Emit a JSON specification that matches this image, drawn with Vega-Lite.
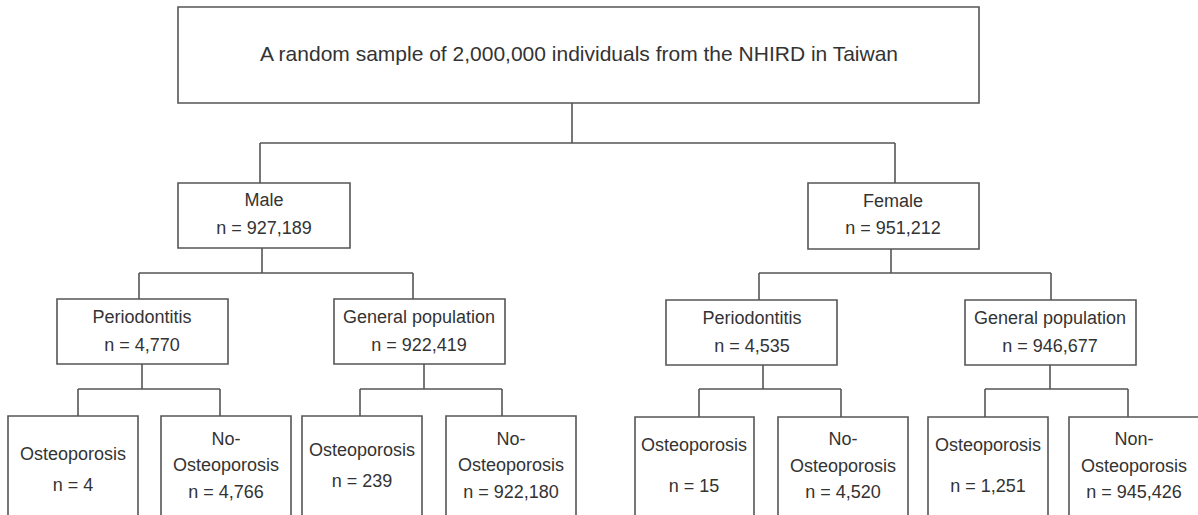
{
  "$schema": "https://vega.github.io/schema/vega-lite/v6.json",
  "width": 1198,
  "height": 515,
  "padding": 0,
  "autosize": {"type": "fit", "contains": "padding"},
  "background": "white",
  "config": {"view": {"stroke": null}},
  "datasets": {
    "boxes": [
      {"node": "root", "x": 178, "x2": 979, "y": 7, "y2": 103},
      {"node": "male", "x": 178, "x2": 350, "y": 183, "y2": 248},
      {"node": "female", "x": 808, "x2": 979, "y": 183, "y2": 249},
      {"node": "m_perio", "x": 57, "x2": 228, "y": 299, "y2": 364},
      {"node": "m_gen", "x": 334, "x2": 505, "y": 299, "y2": 364},
      {"node": "f_perio", "x": 666, "x2": 837, "y": 300, "y2": 365},
      {"node": "f_gen", "x": 965, "x2": 1136, "y": 300, "y2": 365},
      {"node": "m_perio_ost", "x": 8, "x2": 138, "y": 416, "y2": 530},
      {"node": "m_perio_non", "x": 161, "x2": 291, "y": 416, "y2": 530},
      {"node": "m_gen_ost", "x": 302, "x2": 422, "y": 416, "y2": 530},
      {"node": "m_gen_non", "x": 446, "x2": 576, "y": 416, "y2": 530},
      {"node": "f_perio_ost", "x": 635, "x2": 754, "y": 417, "y2": 530},
      {"node": "f_perio_non", "x": 778, "x2": 908, "y": 417, "y2": 530},
      {"node": "f_gen_ost", "x": 928, "x2": 1048, "y": 417, "y2": 530},
      {"node": "f_gen_non", "x": 1069, "x2": 1210, "y": 417, "y2": 530}
    ],
    "links": [
      {"x": 572, "x2": 572, "y": 103, "y2": 143},
      {"x": 260, "x2": 895, "y": 143, "y2": 143},
      {"x": 260, "x2": 260, "y": 143, "y2": 183},
      {"x": 895, "x2": 895, "y": 143, "y2": 183},
      {"x": 262, "x2": 262, "y": 248, "y2": 273},
      {"x": 139, "x2": 413, "y": 273, "y2": 273},
      {"x": 139, "x2": 139, "y": 273, "y2": 299},
      {"x": 413, "x2": 413, "y": 273, "y2": 299},
      {"x": 891, "x2": 891, "y": 249, "y2": 273},
      {"x": 759, "x2": 1051, "y": 273, "y2": 273},
      {"x": 759, "x2": 759, "y": 273, "y2": 300},
      {"x": 1051, "x2": 1051, "y": 273, "y2": 300},
      {"x": 142, "x2": 142, "y": 364, "y2": 389},
      {"x": 78, "x2": 220, "y": 389, "y2": 389},
      {"x": 78, "x2": 78, "y": 389, "y2": 416},
      {"x": 220, "x2": 220, "y": 389, "y2": 416},
      {"x": 424, "x2": 424, "y": 364, "y2": 389},
      {"x": 360, "x2": 502, "y": 389, "y2": 389},
      {"x": 360, "x2": 360, "y": 389, "y2": 416},
      {"x": 502, "x2": 502, "y": 389, "y2": 416},
      {"x": 763, "x2": 763, "y": 365, "y2": 389},
      {"x": 699, "x2": 841, "y": 389, "y2": 389},
      {"x": 699, "x2": 699, "y": 389, "y2": 417},
      {"x": 841, "x2": 841, "y": 389, "y2": 417},
      {"x": 1050, "x2": 1050, "y": 365, "y2": 389},
      {"x": 985, "x2": 1128, "y": 389, "y2": 389},
      {"x": 985, "x2": 985, "y": 389, "y2": 417},
      {"x": 1128, "x2": 1128, "y": 389, "y2": 417}
    ],
    "labels": [
      {"role": "title", "x": 579, "y": 55, "label": "A random sample of 2,000,000 individuals from the NHIRD in Taiwan"},
      {"role": "node", "x": 264, "y": 201, "label": "Male"},
      {"role": "node", "x": 264, "y": 229, "label": "n = 927,189"},
      {"role": "node", "x": 893, "y": 202, "label": "Female"},
      {"role": "node", "x": 893, "y": 229, "label": "n = 951,212"},
      {"role": "node", "x": 142, "y": 318, "label": "Periodontitis"},
      {"role": "node", "x": 142, "y": 346, "label": "n = 4,770"},
      {"role": "node", "x": 419, "y": 318, "label": "General population"},
      {"role": "node", "x": 419, "y": 346, "label": "n = 922,419"},
      {"role": "node", "x": 752, "y": 319, "label": "Periodontitis"},
      {"role": "node", "x": 752, "y": 347, "label": "n = 4,535"},
      {"role": "node", "x": 1050, "y": 319, "label": "General population"},
      {"role": "node", "x": 1050, "y": 347, "label": "n = 946,677"},
      {"role": "node", "x": 73, "y": 455, "label": "Osteoporosis"},
      {"role": "node", "x": 73, "y": 486, "label": "n = 4"},
      {"role": "node", "x": 226, "y": 440, "label": "No-"},
      {"role": "node", "x": 226, "y": 466, "label": "Osteoporosis"},
      {"role": "node", "x": 226, "y": 493, "label": "n = 4,766"},
      {"role": "node", "x": 362, "y": 451, "label": "Osteoporosis"},
      {"role": "node", "x": 362, "y": 482, "label": "n = 239"},
      {"role": "node", "x": 511, "y": 440, "label": "No-"},
      {"role": "node", "x": 511, "y": 466, "label": "Osteoporosis"},
      {"role": "node", "x": 511, "y": 493, "label": "n = 922,180"},
      {"role": "node", "x": 694, "y": 446, "label": "Osteoporosis"},
      {"role": "node", "x": 694, "y": 487, "label": "n = 15"},
      {"role": "node", "x": 843, "y": 440, "label": "No-"},
      {"role": "node", "x": 843, "y": 467, "label": "Osteoporosis"},
      {"role": "node", "x": 843, "y": 493, "label": "n = 4,520"},
      {"role": "node", "x": 988, "y": 446, "label": "Osteoporosis"},
      {"role": "node", "x": 988, "y": 487, "label": "n = 1,251"},
      {"role": "node", "x": 1134, "y": 440, "label": "Non-"},
      {"role": "node", "x": 1134, "y": 467, "label": "Osteoporosis"},
      {"role": "node", "x": 1134, "y": 493, "label": "n = 945,426"}
    ]
  },
  "layer": [
    {
      "data": {"name": "boxes"},
      "mark": {"type": "rect", "fill": "white", "stroke": "#555555", "strokeWidth": 1.6, "clip": true},
      "encoding": {
        "x": {"field": "x", "type": "quantitative", "scale": {"domain": [0, 1198], "nice": false, "zero": false}, "axis": null},
        "x2": {"field": "x2"},
        "y": {"field": "y", "type": "quantitative", "scale": {"domain": [0, 515], "nice": false, "zero": false, "reverse": true}, "axis": null},
        "y2": {"field": "y2"}
      }
    },
    {
      "data": {"name": "links"},
      "mark": {"type": "rule", "stroke": "#555555", "strokeWidth": 1.6},
      "encoding": {
        "x": {"field": "x", "type": "quantitative", "scale": {"domain": [0, 1198], "nice": false, "zero": false}, "axis": null},
        "x2": {"field": "x2"},
        "y": {"field": "y", "type": "quantitative", "scale": {"domain": [0, 515], "nice": false, "zero": false, "reverse": true}, "axis": null},
        "y2": {"field": "y2"}
      }
    },
    {
      "data": {"name": "labels"},
      "transform": [{"filter": "datum.role === 'node'"}],
      "mark": {"type": "text", "font": "Liberation Sans", "fontSize": 18, "fill": "#333333", "align": "center", "baseline": "middle"},
      "encoding": {
        "x": {"field": "x", "type": "quantitative", "scale": {"domain": [0, 1198], "nice": false, "zero": false}, "axis": null},
        "y": {"field": "y", "type": "quantitative", "scale": {"domain": [0, 515], "nice": false, "zero": false, "reverse": true}, "axis": null},
        "text": {"field": "label"}
      }
    },
    {
      "data": {"name": "labels"},
      "transform": [{"filter": "datum.role === 'title'"}],
      "mark": {"type": "text", "font": "Liberation Sans", "fontSize": 21, "fill": "#333333", "align": "center", "baseline": "middle"},
      "encoding": {
        "x": {"field": "x", "type": "quantitative", "scale": {"domain": [0, 1198], "nice": false, "zero": false}, "axis": null},
        "y": {"field": "y", "type": "quantitative", "scale": {"domain": [0, 515], "nice": false, "zero": false, "reverse": true}, "axis": null},
        "text": {"field": "label"}
      }
    }
  ]
}
